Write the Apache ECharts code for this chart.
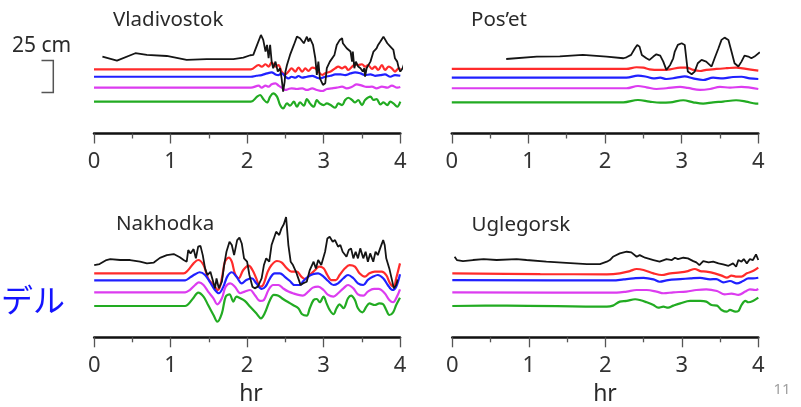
<!DOCTYPE html>
<html>
<head>
<meta charset="utf-8">
<style>html,body{margin:0;padding:0;background:#fff}#c{width:801px;height:407px}</style>
<script src="https://cdn.jsdelivr.net/npm/echarts@6/dist/echarts.min.js"></script>
</head>
<body>
<div id="c"></div>
<script>
// ---- data (time in hr, deviation in cm from each trace's offset) ----
const stations = ['Vladivostok', 'Pos\u2019et', 'Nakhodka', 'Uglegorsk'];
const xTicks = [0, 1, 2, 3, 4];
const traceColors = ['#151515', '#ff2b2b', '#2020ff', '#dc3cf0', '#22ab22'];
const blackBase = [62.7, 62.7, 60.2, 65.2];
const redBase = [53.5, 53.8, 53.3, 53.3];
const blueBase = [47.3, 46.5, 47.5, 47.7];
const magentaBase = [38.2, 37.7, 37.5, 37.5];
const greenBase = [26.5, 26.0, 26.1, 26.1];

const vladBlack = [[0.11,1.3],[0.30,-2],[0.54,4.2],[0.69,2.8],[0.95,1.9],[1.21,-1.4],[1.47,-0.8],[1.82,-0.8],[1.95,0.5],[2.04,2.5],[2.08,2.8],[2.13,11.1],[2.18,19.4],[2.21,15.3],[2.24,5.6],[2.26,11.1],[2.28,0],[2.30,11.1],[2.32,-2.8],[2.34,-8.3],[2.37,-2.8],[2.40,-11.1],[2.43,-8.3],[2.45,-16.7],[2.47,-27.8],[2.49,-19.4],[2.50,-11.1],[2.52,-5.6],[2.56,2.8],[2.61,11.1],[2.65,18],[2.69,16.7],[2.74,12.5],[2.78,18],[2.80,13.9],[2.82,16.7],[2.86,11.1],[2.89,0],[2.91,-13.9],[2.93,-2.8],[2.95,-16.7],[2.99,-22.2],[3.02,-20.8],[3.04,-8.3],[3.08,-2.8],[3.10,-2.8],[3.14,2.8],[3.17,11.1],[3.21,15.3],[3.24,16.7],[3.25,12.5],[3.27,13.9],[3.30,8.3],[3.32,9.7],[3.35,5.6],[3.37,-2.8],[3.38,5.6],[3.40,-8.3],[3.42,-2.8],[3.45,-6.9],[3.48,-8.3],[3.51,-11.1],[3.53,-8.3],[3.54,-15.3],[3.56,-8.3],[3.61,-2.8],[3.65,5.6],[3.69,8.3],[3.71,11.1],[3.74,13.9],[3.78,18],[3.80,16.7],[3.83,12.5],[3.85,13.9],[3.87,9.7],[3.91,6.9],[3.93,0],[3.96,-2.8],[3.98,-8.3],[4.00,-11.1],[4.03,-8.3],[4.06,-2.8]];
const vladRed = [[0,0],[2.05,0],[2.15,3.6],[2.19,2.2],[2.24,4.2],[2.28,2.2],[2.32,5.8],[2.37,2.2],[2.41,3.6],[2.45,-1.9],[2.50,-4.2],[2.54,-1.9],[2.58,0.8],[2.63,-1.9],[2.67,1.4],[2.72,-1.9],[2.76,0.8],[2.80,-1.4],[2.85,1.4],[2.89,0.8],[2.93,-1.9],[2.98,-4.7],[3.02,-3.3],[3.09,-1.9],[3.15,0.8],[3.19,2.2],[3.24,0.8],[3.28,2.2],[3.32,-0.6],[3.37,2.2],[3.41,4.2],[3.45,3.6],[3.50,4.2],[3.54,2.2],[3.58,3.6],[3.63,0.3],[3.67,2.2],[3.71,-0.6],[3.76,3.6],[3.80,-0.6],[3.85,2.2],[3.89,0.8],[3.93,-1.9],[3.98,0.8],[4.0,0]];
const vladBlue = [[0,0],[2.05,0],[2.12,0.8],[2.19,1.4],[2.26,2.8],[2.32,3.6],[2.37,1.9],[2.41,1.4],[2.45,2.8],[2.50,0],[2.54,-1.4],[2.58,0],[2.63,-0.8],[2.67,0.6],[2.72,-0.8],[2.78,0],[2.85,0.8],[2.91,-0.8],[2.95,-1.4],[3.02,0],[3.09,0.8],[3.15,1.9],[3.22,1.9],[3.28,1.4],[3.35,2.8],[3.41,3.6],[3.48,2.8],[3.54,1.4],[3.61,1.9],[3.67,0.8],[3.74,1.4],[3.80,1.9],[3.87,0],[3.93,1.4],[4.0,0.8]];
const vladMagenta = [[0,0],[2.05,0],[2.15,1.7],[2.19,0],[2.24,1.7],[2.28,0.8],[2.32,2.8],[2.37,3.6],[2.41,1.7],[2.45,0],[2.50,-1.9],[2.54,-1.1],[2.58,-0.6],[2.65,-1.1],[2.72,-0.6],[2.78,-1.9],[2.85,-0.6],[2.91,-1.9],[2.98,-2.8],[3.04,-1.1],[3.10,-0.6],[3.17,0],[3.24,0.8],[3.30,-0.6],[3.37,0.8],[3.43,2.8],[3.50,1.7],[3.56,0.6],[3.63,0.8],[3.69,-0.6],[3.76,0.8],[3.83,0],[3.89,1.7],[3.96,0],[4.0,0.6]];
const vladGreen = [[0,0],[2.05,0],[2.13,4.2],[2.17,5.6],[2.21,2.2],[2.26,-0.6],[2.30,4.2],[2.34,6.9],[2.39,4.2],[2.43,-2.8],[2.47,-5.6],[2.52,-1.4],[2.56,-3.3],[2.61,0],[2.65,-4.2],[2.69,-0.6],[2.74,-3.3],[2.78,2.2],[2.82,-1.4],[2.87,-4.2],[2.91,1.4],[2.95,-1.4],[3.00,-2.8],[3.04,-1.4],[3.09,-2.8],[3.15,-5],[3.19,-1.4],[3.24,-2.8],[3.28,1.4],[3.32,3.3],[3.37,1.4],[3.41,-0.6],[3.45,1.4],[3.50,-2.8],[3.54,1.4],[3.61,4.2],[3.65,1.4],[3.69,2.2],[3.74,-2.2],[3.78,-0.6],[3.83,-2.8],[3.87,0],[3.91,-1.4],[3.96,-4.2],[4.0,0]];

const posetBlack = [[0.71,-0.6],[1.11,1.3],[1.41,1.5],[1.71,2.8],[2.02,1.3],[2.24,0],[2.28,0.8],[2.34,2.8],[2.39,8.3],[2.42,11.1],[2.45,9.7],[2.48,2.8],[2.54,0],[2.58,-1.4],[2.63,1.4],[2.67,3.3],[2.72,2.2],[2.76,-2.8],[2.80,-9.7],[2.85,-5.6],[2.89,0],[2.91,5.6],[2.95,11.1],[3.0,12.5],[3.04,11.1],[3.06,0],[3.08,-11.1],[3.13,-13.3],[3.17,-11.1],[3.21,-4.2],[3.26,-1.4],[3.32,-2.8],[3.39,-6.9],[3.43,0],[3.48,8.3],[3.52,15.3],[3.56,17.2],[3.61,15.3],[3.65,5.6],[3.69,-4.2],[3.74,-6.9],[3.78,-2.8],[3.82,2.2],[3.87,1.4],[3.91,0],[3.95,1.4],[4.02,5]];
const posetRed = [[0,0],[2.28,0],[2.41,1.4],[2.50,1.1],[2.58,-0.3],[2.72,-0.8],[2.85,-0.3],[2.98,1.1],[3.06,1.1],[3.15,-0.8],[3.24,-1.7],[3.32,-0.8],[3.45,0],[3.58,0.6],[3.71,1.1],[3.84,0],[4.0,-1.4]];
const posetBlue = [[0,0],[2.28,0],[2.43,1.7],[2.54,0.8],[2.63,-0.6],[2.72,0],[2.80,-1.1],[2.93,0],[3.04,1.1],[3.15,-0.6],[3.28,-1.9],[3.41,0],[3.54,-0.6],[3.67,0.6],[3.78,0.8],[3.89,-0.6],[4.0,-1.1]];
const posetMagenta = [[0,0],[2.28,0],[2.43,1.9],[2.54,0.8],[2.67,-0.6],[2.80,0],[2.98,1.1],[3.08,0.3],[3.24,-1.4],[3.37,-0.6],[3.50,1.1],[3.63,0.6],[3.78,1.1],[4.0,-0.6]];
const posetGreen = [[0,0],[2.24,0],[2.43,1.9],[2.58,0.6],[2.72,-0.3],[2.85,0],[3.02,1.7],[3.15,0],[3.28,-1.1],[3.41,0],[3.54,0.6],[3.71,1.7],[3.84,0.6],[3.97,-1.1],[4.0,-1.1]];

const nakBlack = [[0.0,0],[0.07,0.8],[0.16,4.2],[0.21,5],[0.34,4.2],[0.47,4.2],[0.60,2.8],[0.69,1.4],[0.78,2.1],[0.86,6],[0.95,8.3],[1.04,9.2],[1.12,6.5],[1.17,4.2],[1.21,2.8],[1.23,12.5],[1.26,9.7],[1.30,13.3],[1.33,5.6],[1.36,15.3],[1.39,16],[1.42,8.3],[1.45,-2.8],[1.48,-8.3],[1.52,-5.6],[1.55,-12.5],[1.58,-19.4],[1.60,-11.1],[1.63,-19.4],[1.67,-13.9],[1.70,0],[1.73,11.1],[1.77,19.4],[1.80,16.7],[1.83,8.3],[1.87,20.8],[1.90,22.8],[1.93,18],[1.96,5.6],[2.0,2.8],[2.03,-8.3],[2.07,-18],[2.10,-19.4],[2.14,-18],[2.19,-11.1],[2.22,0],[2.25,5.6],[2.29,2.8],[2.32,16.7],[2.35,22.2],[2.38,27.8],[2.42,25],[2.45,30.6],[2.48,34],[2.51,40],[2.54,16.7],[2.57,2.8],[2.60,0],[2.64,-5.6],[2.67,-11.1],[2.70,-16.7],[2.73,-15.3],[2.78,-13.9],[2.82,-4.2],[2.87,2.8],[2.90,-2.8],[2.93,4.2],[2.97,0],[3.02,11.1],[3.05,22.2],[3.08,23.6],[3.12,19.4],[3.15,20.8],[3.19,15.3],[3.22,16.7],[3.25,11.1],[3.30,6.9],[3.33,12.5],[3.36,13.9],[3.39,5.6],[3.42,11.1],[3.45,5.6],[3.48,13.9],[3.52,5.6],[3.55,11.1],[3.58,2.8],[3.61,9.7],[3.65,2.8],[3.68,11.1],[3.71,8.3],[3.74,13.9],[3.78,20.8],[3.80,16.7],[3.82,5.6],[3.86,-2.8],[3.89,-11.1],[3.92,-19.4],[3.95,-16.7],[3.97,-12]];
const nakRed = [[0,0],[1.17,0],[1.23,2.8],[1.30,8.3],[1.36,11.1],[1.43,6.9],[1.49,-4.2],[1.56,-9.7],[1.62,-13.9],[1.67,-4.2],[1.71,9.7],[1.76,13.1],[1.80,9.7],[1.84,0],[1.89,-4.2],[1.95,2.8],[2.02,6.4],[2.07,2.8],[2.12,-4.2],[2.17,-11.1],[2.21,-9.7],[2.27,1.4],[2.32,6.9],[2.39,10.3],[2.45,9.2],[2.52,4.2],[2.58,1.4],[2.65,1.4],[2.71,-2.8],[2.76,-4.7],[2.82,-1.4],[2.89,2.8],[2.94,5.6],[3.0,4.2],[3.05,-1.4],[3.10,-5.6],[3.16,-5.6],[3.21,-1.4],[3.28,4.2],[3.34,6.9],[3.41,5.6],[3.47,0],[3.54,-2.8],[3.60,0],[3.67,1.4],[3.76,1.4],[3.82,-1.4],[3.87,-8.3],[3.92,-11.1],[3.95,-4.2],[4.0,8.3]];
const nakBlue = [[0,0],[1.19,0],[1.25,2.2],[1.32,5],[1.38,6.7],[1.45,4.4],[1.51,-1.1],[1.58,-8.1],[1.63,-10.8],[1.69,-5.3],[1.74,3.1],[1.80,6.7],[1.86,3.1],[1.93,-2.5],[1.99,0.3],[2.06,1.7],[2.12,-2.5],[2.19,-7.2],[2.24,-5.3],[2.30,1.7],[2.36,5.8],[2.43,5.8],[2.49,3.1],[2.56,-0.6],[2.62,-3.9],[2.69,-3.9],[2.73,-1.1],[2.80,3.1],[2.86,5],[2.93,5.8],[3.0,3.1],[3.06,-0.6],[3.13,-3.9],[3.19,-2.5],[3.26,1.7],[3.32,4.4],[3.39,1.7],[3.45,-2.5],[3.52,-3.9],[3.58,0.3],[3.65,3.1],[3.71,4.4],[3.78,1.7],[3.84,-3.9],[3.90,-8.1],[3.95,-5.3],[4.0,5]];
const nakMagenta = [[0,0],[1.19,0],[1.25,1.9],[1.32,6.1],[1.37,8.3],[1.43,6.1],[1.49,0.6],[1.56,-5],[1.61,-10],[1.67,-5],[1.72,4.7],[1.78,7.5],[1.84,4.7],[1.91,-0.8],[1.97,0.6],[2.04,1.9],[2.10,-2.2],[2.17,-7.2],[2.22,-6.4],[2.28,1.9],[2.34,6.1],[2.41,6.1],[2.47,3.3],[2.54,0.6],[2.60,-0.8],[2.67,-2.2],[2.73,-2.8],[2.80,0.6],[2.86,3.9],[2.93,4.7],[3.0,1.9],[3.06,-2.2],[3.13,-3.6],[3.19,-0.8],[3.26,3.3],[3.32,6.1],[3.39,3.3],[3.45,-1.7],[3.52,-2.8],[3.58,0.6],[3.66,2.8],[3.72,2.8],[3.80,-0.8],[3.86,-6.4],[3.91,-8.3],[3.96,-3.6],[4.0,2.5]];
const nakGreen = [[0,0],[1.19,0],[1.23,1.4],[1.30,6.9],[1.36,11.1],[1.43,7.8],[1.49,0.8],[1.56,-7.5],[1.61,-13.1],[1.67,-6.1],[1.72,7.8],[1.77,9.7],[1.82,3.6],[1.86,7.8],[1.91,6.4],[1.97,4.2],[2.04,-0.6],[2.12,-6.1],[2.18,-10.3],[2.23,-6.1],[2.30,5],[2.35,9.2],[2.41,8.6],[2.47,5.8],[2.54,3.1],[2.60,0.8],[2.67,-1.9],[2.72,-6.9],[2.78,-8.1],[2.82,-1.9],[2.87,5],[2.91,5.8],[2.95,3.1],[3.0,7.8],[3.04,2.2],[3.08,-3.3],[3.13,-6.9],[3.17,-1.9],[3.21,1.4],[3.26,-1.9],[3.32,6.4],[3.36,8.6],[3.41,5],[3.45,-1.9],[3.51,-5.3],[3.56,-0.6],[3.60,2.2],[3.67,0.8],[3.73,2.2],[3.78,1.4],[3.82,-3.3],[3.86,-7.5],[3.91,-5.3],[3.95,0.8],[4.0,6.9]];

const uglBlack = [[0.03,1.9],[0.06,-0.8],[0.14,-1.7],[0.27,-0.8],[0.41,0],[0.58,-0.8],[0.84,0],[0.97,-0.8],[1.23,-2.2],[1.49,-3.1],[1.76,-4.2],[1.93,-4.2],[2.02,-2.2],[2.06,-0.8],[2.10,1.9],[2.19,4.7],[2.28,6.1],[2.34,5.6],[2.41,1.9],[2.45,3.3],[2.52,1.1],[2.63,-0.8],[2.71,-2.2],[2.80,0],[2.87,-0.8],[2.91,1.1],[2.95,0],[3.02,1.1],[3.08,0.6],[3.15,-1.7],[3.19,-2.8],[3.23,-5],[3.28,-1.7],[3.35,-2.8],[3.41,-2.2],[3.48,-3.6],[3.54,-4.4],[3.61,-5.6],[3.67,-3.6],[3.71,-6.4],[3.74,-0.8],[3.78,-2.2],[3.81,0],[3.85,-3.6],[3.89,0],[3.93,-0.8],[3.97,3.9],[4.0,-0.8]];
const uglRed = [[0,0],[1.15,-0.6],[2.02,-0.8],[2.19,0],[2.32,1.9],[2.41,3.6],[2.50,2.8],[2.63,0],[2.74,-1.4],[2.85,0],[2.98,0.8],[3.08,1.9],[3.17,3.6],[3.24,1.9],[3.32,1.4],[3.43,0],[3.52,-1.9],[3.59,-3.6],[3.65,-1.9],[3.72,-2.8],[3.78,-2.8],[3.85,0],[3.93,1.9],[4.0,4.7]];
const uglBlue = [[0,0],[2.10,-0.3],[2.24,0.6],[2.37,1.4],[2.50,1.9],[2.63,0.6],[2.71,-1.4],[2.82,0],[2.98,0.8],[3.11,1.4],[3.24,1.9],[3.37,0.6],[3.45,0.8],[3.54,-1.9],[3.63,-0.8],[3.72,-2.8],[3.80,-0.8],[3.87,1.4],[3.93,1.4],[4.0,1.9]];
const uglMagenta = [[0,0],[2.15,-0.3],[2.28,0.6],[2.41,1.9],[2.54,1.9],[2.67,0.6],[2.76,-0.8],[2.89,0],[3.06,0.6],[3.19,1.9],[3.32,2.5],[3.46,1.1],[3.56,-1.7],[3.65,-1.1],[3.74,-2.2],[3.83,0.6],[3.89,2.5],[3.96,1.9],[4.0,2.8]];
const uglGreen = [[0,0],[0.71,0.3],[2.02,-0.6],[2.10,0.3],[2.19,3.6],[2.28,4.2],[2.39,5.6],[2.45,5],[2.54,3.1],[2.63,0.8],[2.69,-1.4],[2.76,-0.6],[2.82,-1.4],[2.89,0.3],[2.98,2.2],[3.11,4.2],[3.24,4.2],[3.32,3.6],[3.39,0.8],[3.46,0.3],[3.52,-3.3],[3.59,-4.7],[3.63,-3.3],[3.70,-4.7],[3.74,-4.2],[3.78,0.8],[3.83,4.2],[3.87,3.1],[3.93,4.2],[4.0,6.9]];

const panelTraces = [
  [vladBlack, vladRed, vladBlue, vladMagenta, vladGreen],
  [posetBlack, posetRed, posetBlue, posetMagenta, posetGreen],
  [nakBlack, nakRed, nakBlue, nakMagenta, nakGreen],
  [uglBlack, uglRed, uglBlue, uglMagenta, uglGreen]
];
const panelBases = [0,1,2,3].map(i => [blackBase[i], redBase[i], blueBase[i], magentaBase[i], greenBase[i]]);

// ---- layout ----
const grids = [
  {left: 94, top: 25.5, width: 306.3, height: 108},
  {left: 451.8, top: 25.5, width: 306.5, height: 108},
  {left: 94.2, top: 205.3, width: 305.8, height: 132},
  {left: 452.3, top: 205.3, width: 306, height: 132}
];
const yMax = [90, 90, 110, 110];
const FONT = '"Noto Sans", "Open Sans", sans-serif';

const xAxes = grids.map((g, i) => ({
  type: 'value', gridIndex: i, min: xTicks[0], max: xTicks[xTicks.length - 1], interval: 1,
  axisLine: {show: true, onZero: false, lineStyle: {color: '#111', width: 2.5}},
  axisTick: {show: true, length: 10, lineStyle: {color: '#555', width: 1.3}},
  minorTick: {show: true, splitNumber: 2, length: 5, lineStyle: {color: '#555', width: 1.3}},
  splitLine: {show: false}, minorSplitLine: {show: false},
  axisLabel: {fontSize: 22, color: '#333', fontFamily: FONT, margin: 17}
}));
const yAxes = grids.map((g, i) => ({
  type: 'value', gridIndex: i, min: 0, max: yMax[i], show: false
}));

const series = [];
panelTraces.forEach((traces, p) => {
  traces.forEach((tr, k) => {
    series.push({
      type: 'line', xAxisIndex: p, yAxisIndex: p,
      data: tr.map(d => [d[0], d[1] + panelBases[p][k]]),
      showSymbol: false, symbol: 'none', clip: false,
      smooth: k === 0 ? false : 0.35,
      z: k === 0 ? 3 : 2 + k * 0.01,
      lineStyle: {color: traceColors[k], width: k === 0 ? 1.8 : 2.2},
      emphasis: {disabled: true}, silent: true
    });
  });
});

const txt = (text, x, y, size, color, align, family) => ({
  type: 'text', silent: true,
  style: {text, x, y, fill: color, font: size + 'px ' + (family || FONT),
          align: align || 'left', verticalAlign: 'middle',
          textAlign: align || 'left', textVerticalAlign: 'middle'}
});

const graphic = [
  txt(stations[0], 113, 20, 20.5, '#2a2a2a'),
  txt(stations[1], 471, 20, 20.5, '#2a2a2a'),
  txt(stations[2], 116, 224, 20.5, '#2a2a2a'),
  txt(stations[3], 471.5, 225, 20.5, '#2a2a2a'),
  txt('25 cm', 12, 46, 21, '#2a2a2a'),
  txt('hr', 251, 394, 23, '#2a2a2a', 'center'),
  txt('hr', 605, 394, 23, '#2a2a2a', 'center'),
  txt('デル', 1, 300, 32, '#1414ff', 'left', '"Noto Sans CJK JP", sans-serif'),
  txt('11', 782, 390, 15, '#a0a0a0', 'center'),
  {type: 'polyline', silent: true,
   shape: {points: [[41.5, 60.5], [53.3, 60.5], [53.3, 92.5], [41.5, 92.5]]},
   style: {stroke: '#555', lineWidth: 1.5, fill: null}}
];

const chart = echarts.init(document.getElementById('c'), null, {renderer: 'canvas'});
chart.setOption({
  animation: false,
  backgroundColor: '#fff',
  grid: grids,
  xAxis: xAxes,
  yAxis: yAxes,
  series,
  graphic
});
</script>
</body>
</html>
